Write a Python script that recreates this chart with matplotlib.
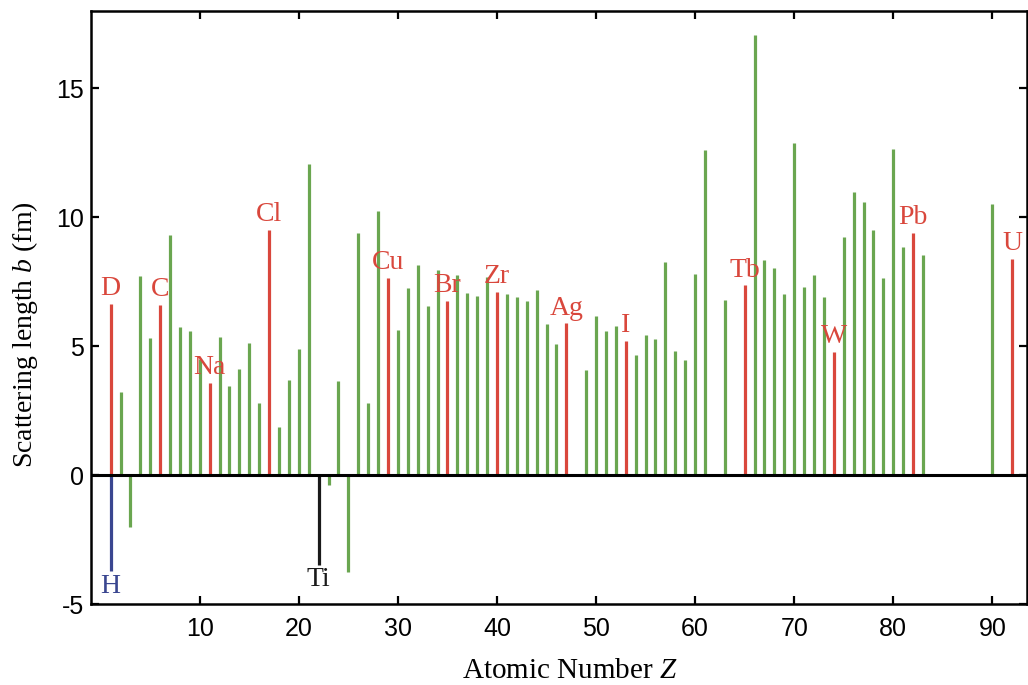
import matplotlib
matplotlib.use("Agg")
import matplotlib.pyplot as plt

plt.rcParams['mathtext.fontset'] = 'custom'
plt.rcParams['mathtext.rm'] = 'Liberation Serif'
plt.rcParams['mathtext.it'] = 'Liberation Serif:italic'
plt.rcParams['axes.unicode_minus'] = False

# ---------------- data ----------------
atomic_number = [1, 1, 2, 3, 4, 5, 6, 7, 8, 9, 10, 11, 12, 13, 14, 15, 16, 17, 18, 19, 20,
                 21, 22, 23, 24, 25, 26, 27, 28, 29, 30, 31, 32, 33, 34, 35, 36, 37, 38, 39, 40,
                 41, 42, 43, 44, 45, 46, 47, 49, 50, 51, 52, 53, 54, 55, 56, 57, 58, 59, 60,
                 61, 63, 65, 66, 67, 68, 69, 70, 71, 72, 73, 74, 75, 76, 77, 78, 79, 80,
                 81, 82, 83, 90, 92]
element = ['H', 'D', 'He', 'Li', 'Be', 'B', 'C', 'N', 'O', 'F', 'Ne', 'Na', 'Mg', 'Al', 'Si', 'P', 'S', 'Cl', 'Ar', 'K', 'Ca',
           'Sc', 'Ti', 'V', 'Cr', 'Mn', 'Fe', 'Co', 'Ni', 'Cu', 'Zn', 'Ga', 'Ge', 'As', 'Se', 'Br', 'Kr', 'Rb', 'Sr', 'Y', 'Zr',
           'Nb', 'Mo', 'Tc', 'Ru', 'Rh', 'Pd', 'Ag', 'In', 'Sn', 'Sb', 'Te', 'I', 'Xe', 'Cs', 'Ba', 'La', 'Ce', 'Pr', 'Nd',
           'Pm', 'Eu', 'Tb', 'Dy', 'Ho', 'Er', 'Tm', 'Yb', 'Lu', 'Hf', 'Ta', 'W', 'Re', 'Os', 'Ir', 'Pt', 'Au', 'Hg',
           'Tl', 'Pb', 'Bi', 'Th', 'U']
scattering_length = [-3.72, 6.63, 3.22, -2.00, 7.72, 5.30, 6.60, 9.33, 5.76, 5.60, 4.50, 3.57, 5.34, 3.45, 4.12, 5.11, 2.81, 9.50, 1.87, 3.68, 4.88,
                     12.08, -3.47, -0.39, 3.64, -3.77, 9.39, 2.78, 10.25, 7.66, 5.63, 7.27, 8.14, 6.54, 7.95, 6.76, 7.77, 7.05, 6.96, 7.70, 7.12,
                     7.01, 6.92, 6.76, 7.17, 5.86, 5.08, 5.88, 4.09, 6.18, 5.60, 5.79, 5.21, 4.66, 5.42, 5.26, 8.28, 4.83, 4.46, 7.80,
                     12.60, 6.78, 7.36, 17.08, 8.35, 8.02, 7.03, 12.88, 7.31, 7.77, 6.90, 4.78, 9.22, 10.99, 10.60, 9.50, 7.64, 12.66,
                     8.86, 9.38, 8.54, 10.51, 8.38]

labeled_red = ['D', 'C', 'Na', 'Cl', 'Cu', 'Br', 'Zr', 'Ag', 'I', 'Tb', 'W', 'Pb', 'U']
labeled_below = {'H': '#3a4690', 'Ti': '#1a1a1a'}

xticks = [10, 20, 30, 40, 50, 60, 70, 80, 90]
yticks = [-5, 0, 5, 10, 15]

# ---------------- style ----------------
GREEN = '#6aa650'
RED = '#d9473c'
serif = 'Liberation Serif'

fig = plt.figure(figsize=(10.28, 6.85), dpi=100)
ax = fig.add_axes([91/1028, 1-604/685, (1027-91)/1028, (604-11)/685])

colors = []
for el in element:
    if el in labeled_red:
        colors.append(RED)
    elif el in labeled_below:
        colors.append(labeled_below[el])
    else:
        colors.append(GREEN)

ax.vlines(atomic_number, 0, scattering_length, colors=colors, linewidth=2.3, zorder=2)
ax.axhline(0, color='black', linewidth=2.2, zorder=3)

for z, el, b in zip(atomic_number, element, scattering_length):
    if el in labeled_red:
        ax.annotate(el, (z, b), xytext=(0, 11), textcoords='offset points',
                    ha='center', va='center', color=RED, fontsize=20, family=serif, zorder=4)
    elif el in labeled_below:
        ax.annotate(el, (z, b), xytext=(0, -11), textcoords='offset points',
                    ha='center', va='center', color=labeled_below[el], fontsize=20, family=serif, zorder=4)

ax.set_xlim(-0.98, 93.5)
ax.set_ylim(-5, 18)
ax.set_xticks(xticks)
ax.set_yticks(yticks)
ax.tick_params(direction='in', length=6, width=1.6, top=True, right=True,
               labelsize=18, pad=9)
ax.tick_params(axis='y', pad=5)
for lab in ax.get_xticklabels() + ax.get_yticklabels():
    lab.set_family('Liberation Sans')
for s in ax.spines.values():
    s.set_linewidth(1.8)

fig.text(570/1028, 1-671/685, 'Atomic Number $Z$', ha='center', va='center',
         fontsize=21, family=serif)
fig.text(25/1028, 1-335/685, 'Scattering length $b$ (fm)', ha='center', va='center',
         rotation=90, fontsize=20, family=serif)

fig.savefig('out.png', dpi=100)
